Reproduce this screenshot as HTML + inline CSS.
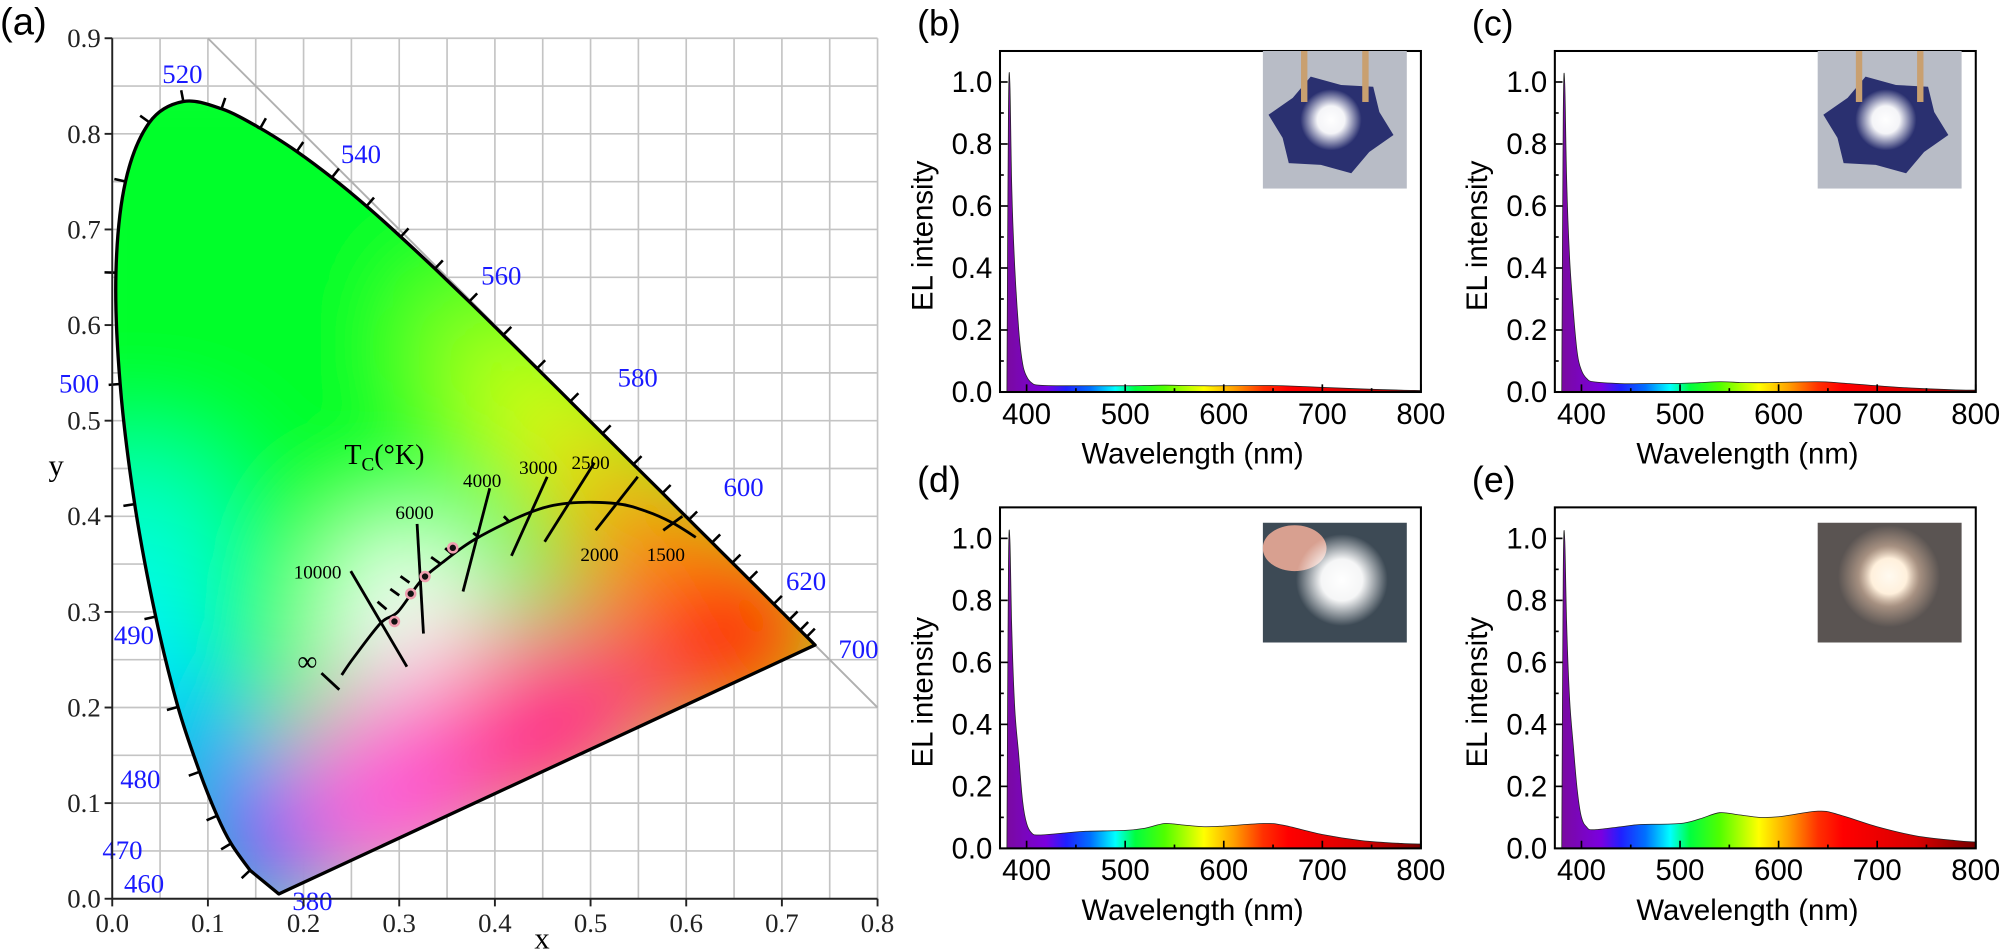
<!DOCTYPE html>
<html><head><meta charset="utf-8"><style>
html,body{margin:0;padding:0;background:#fff;}
svg{display:block;}
.ser{font-family:"Liberation Serif",serif;}
.san{font-family:"Liberation Sans",sans-serif;}
</style></head><body>
<svg id="fig" width="2000" height="951" viewBox="0 0 1568 746" preserveAspectRatio="none" xmlns="http://www.w3.org/2000/svg">
<defs>
<filter id="blur" x="-50%" y="-50%" width="200%" height="200%"><feGaussianBlur stdDeviation="42"/></filter>
<clipPath id="locusClip"><path id="locusClipPath"/></clipPath>
<radialGradient id="glowW"><stop offset="0" stop-color="#fff"/><stop offset="0.45" stop-color="#fff" stop-opacity="0.95"/><stop offset="1" stop-color="#fff" stop-opacity="0"/></radialGradient>
<radialGradient id="glowWarm"><stop offset="0" stop-color="#fffaf0"/><stop offset="0.35" stop-color="#fff0dc"/><stop offset="0.6" stop-color="#d8b8a0" stop-opacity="0.6"/><stop offset="1" stop-color="#d8b8a0" stop-opacity="0"/></radialGradient>
</defs>
<g id="panelA"></g>
<g id="spectra"></g>
</svg>
<script>
// ---- CIE data ----
const locusWl=[380,460,470,475,480,485,490,495,500,505,510,515,520,525,530,535,540,545,550,555,560,565,570,575,580,585,590,595,600,605,610,620,630,640,650,700];
const locusX=[0.1741,0.1440,0.1241,0.1096,0.0913,0.0687,0.0454,0.0235,0.0082,0.0039,0.0139,0.0389,0.0743,0.1142,0.1547,0.1929,0.2296,0.2658,0.3016,0.3373,0.3731,0.4087,0.4441,0.4788,0.5125,0.5448,0.5752,0.6029,0.6270,0.6482,0.6658,0.6915,0.7079,0.7190,0.7260,0.7347];
const locusY=[0.0050,0.0297,0.0578,0.0868,0.1327,0.2007,0.2950,0.4127,0.5384,0.6548,0.7502,0.8120,0.8338,0.8262,0.8059,0.7816,0.7543,0.7243,0.6923,0.6589,0.6245,0.5896,0.5547,0.5202,0.4866,0.4544,0.4242,0.3965,0.3725,0.3514,0.3340,0.3083,0.2920,0.2809,0.2740,0.2653];
const planckX=[0.2399,0.2524,0.2807,0.2985,0.3221,0.3451,0.3805,0.4369,0.4770,0.5267,0.5586,0.5857,0.6100];
const planckY=[0.2340,0.2522,0.2884,0.3000,0.3318,0.3516,0.3768,0.4041,0.4137,0.4133,0.4051,0.3931,0.3780];
const sampleX=[0.295,0.312,0.327,0.356];
const sampleY=[0.290,0.319,0.337,0.367];
const axisTicks=[0,0.1,0.2,0.3,0.4,0.5,0.6,0.7,0.8,0.9];
const tickText=["0.0","0.1","0.2","0.3","0.4","0.5","0.6","0.7","0.8","0.9"];
const wlLabels=["520","540","560","580","600","620","700","500","490","480","470","460","380"];
const tempLabels=["10000","6000","4000","3000","2500","2000","1500"];

const NS="http://www.w3.org/2000/svg";
function mk(tag,attrs,parent){const e=document.createElementNS(NS,tag);for(const k in attrs)e.setAttribute(k,attrs[k]);parent.appendChild(e);return e;}
const X=v=>88+750*v, Y=v=>705-750*v;
function smooth(pts){
  let s='M'+pts[0][0].toFixed(1)+','+pts[0][1].toFixed(1);
  for(let i=0;i<pts.length-1;i++){
    const p0=pts[Math.max(0,i-1)],p1=pts[i],p2=pts[i+1],p3=pts[Math.min(pts.length-1,i+2)];
    const c1=[p1[0]+(p2[0]-p0[0])/6,p1[1]+(p2[1]-p0[1])/6],c2=[p2[0]-(p3[0]-p1[0])/6,p2[1]-(p3[1]-p1[1])/6];
    s+='C'+c1[0].toFixed(1)+','+c1[1].toFixed(1)+' '+c2[0].toFixed(1)+','+c2[1].toFixed(1)+' '+p2[0].toFixed(1)+','+p2[1].toFixed(1);
  }
  return s;
}
const A=document.getElementById('panelA');

let t=mk('text',{x:0,y:27,'font-size':30,class:'san'},A);t.textContent='(a)';


const grid=mk('g',{stroke:'#c4c4c4','stroke-width':1.3,fill:'none'},A);

for(let i=0;i<=16;i++){mk('line',{x1:X(i*0.05),y1:Y(0),x2:X(i*0.05),y2:Y(0.9)},grid);}
for(let i=0;i<=18;i++){mk('line',{x1:X(0),y1:Y(i*0.05),x2:X(0.8),y2:Y(i*0.05)},grid);}
let dl=mk('line',{x1:X(0.1),y1:Y(0.9),x2:X(0.8),y2:Y(0.2),stroke:'#b0b0b0','stroke-width':1.5},A);


// locus path (smooth)
const lpts=locusX.map((v,i)=>[X(v),Y(locusY[i])]);
const d=smooth(lpts.slice(1))+'L'+lpts[0][0]+','+lpts[0][1]+'Z';
const dFull='M'+lpts[0][0]+','+lpts[0][1]+'L'+smooth(lpts.slice(1)).slice(1)+'Z';
document.getElementById('locusClipPath').setAttribute('d',dFull);
const fillG=mk('g',{'clip-path':'url(#locusClip)'},A);

const bl=mk('g',{filter:'url(#blur)'},fillG);
mk('rect',{x:0,y:0,width:760,height:760,fill:'#00ff2a'},bl);
const blobs=[[0.02,0.36,0.11,'#00ffd0'],[0.02,0.24,0.09,'#00f4ff'],[0.09,0.15,0.08,'#00a8ff'],[0.15,0.04,0.08,'#3040ff'],[0.30,0.11,0.12,'#ff58d8'],[0.46,0.18,0.12,'#ff2888'],[0.65,0.28,0.12,'#ff1000'],[0.56,0.37,0.08,'#ff7800'],[0.50,0.45,0.06,'#ffb800'],[0.44,0.51,0.06,'#f0ff00'],[0.38,0.58,0.05,'#b0ff00'],[0.31,0.31,0.08,'#ffffff'],[0.26,0.27,0.04,'#f0ffff']];
blobs.forEach(b=>mk('circle',{cx:X(b[0]),cy:Y(b[1]),r:b[2]*750,fill:b[3]},bl));
let lp=mk('path',{d:dFull,fill:'none',stroke:'#000','stroke-width':2.6,'stroke-linejoin':'round'},A);

const tk=mk('g',{stroke:'#000','stroke-width':2},A);

for(let i=1;i<locusX.length-1;i++){
  const dx=X(locusX[i+1])-X(locusX[i-1]),dy=Y(locusY[i+1])-Y(locusY[i-1]);const n=Math.hypot(dx,dy)||1;
  const nx=dy/n,ny=-dx/n;const px=X(locusX[i]),py=Y(locusY[i]);
  mk('line',{x1:px,y1:py,x2:px+nx*9,y2:py+ny*9},tk);
}
const wlPos=[[143,58],[283,121],[393,216],[500,296],[583,382],[632,456],[673,509],[62,301],[105,498],[110,611],[96,667],[113,693],[245,707]];
wlLabels.forEach((s,i)=>{const e=mk('text',{x:wlPos[i][0],y:wlPos[i][1]+7,'font-size':21,fill:'#1a1aff','text-anchor':'middle',class:'ser'},A);e.textContent=s;
});

const ax=mk('g',{stroke:'#222','stroke-width':1.5},A);

mk('line',{x1:X(0),y1:Y(0),x2:X(0),y2:Y(0.9)},ax);mk('line',{x1:X(0),y1:Y(0),x2:X(0.8),y2:Y(0)},ax);
axisTicks.forEach((v,i)=>{
  mk('line',{x1:X(0)-6,y1:Y(v),x2:X(0),y2:Y(v)},ax);
  let e=mk('text',{x:79,y:Y(v)+7,'font-size':21,'text-anchor':'end',class:'ser',fill:'#222'},A);e.textContent=tickText[i];
  
  if(v<=0.8){mk('line',{x1:X(v),y1:Y(0),x2:X(v),y2:Y(0)+6},ax);
  e=mk('text',{x:X(v),y:731,'font-size':21,'text-anchor':'middle',class:'ser',fill:'#222'},A);e.textContent=tickText[i];
  }
});
t=mk('text',{x:44,y:373,'font-size':24,'text-anchor':'middle',class:'ser'},A);t.textContent='y';

t=mk('text',{x:425,y:744,'font-size':24,'text-anchor':'middle',class:'ser'},A);t.textContent='x';


const ppts=planckX.map((v,i)=>[X(v),Y(planckY[i])]);
let pl=mk('path',{d:smooth(ppts),fill:'none',stroke:'#000','stroke-width':2.2},A);

const iso=mk('g',{stroke:'#000','stroke-width':2.2},A);

[[275,448,319,523],[327,411,332,497],[384,383,363,464],[429,374,401,436],[466,363,427,425],[500,374,467,416],[535,405,520,416],[252,528,266,541],
 [296,472,303,478],[306,462,313,467],[314,452,321,457],[338,437,345,442],[349,430,355,435],[371,418,376,422],[395,405,399,409]].forEach(l=>mk('line',{x1:l[0],y1:l[1],x2:l[2],y2:l[3]},iso));
const tPos=[[249,449],[325,402],[378,377],[422,367],[463,363],[470,435],[522,435]];
tempLabels.forEach((s,i)=>{const e=mk('text',{x:tPos[i][0],y:tPos[i][1]+5,'font-size':15,'text-anchor':'middle',class:'ser'},A);e.textContent=s;
});
t=mk('text',{x:241,y:526,'font-size':22,'text-anchor':'middle',class:'ser'},A);t.textContent='∞';

t=mk('text',{x:270,y:364,'font-size':22,class:'ser'},A);t.innerHTML='T<tspan font-size="15" dy="5">C</tspan><tspan dy="-5">(°K)</tspan>';

sampleX.forEach((v,i)=>{const c=mk('circle',{cx:X(v),cy:Y(sampleY[i]),r:3.5,fill:'#111',stroke:'#f0a0b0','stroke-width':2},A);
});

// ---- spectra data ----
const specWl=[380,381.5,383,385,388,392,396,400,405,412,440,460,500,520,540,560,580,600,640,660,700,740,780,800];
const specB=[0,0.9,1,0.65,0.4,0.2,0.09,0.05,0.03,0.022,0.02,0.02,0.02,0.021,0.022,0.021,0.02,0.02,0.021,0.02,0.015,0.01,0.006,0.005];
const specC=[0,0.9,1,0.68,0.43,0.25,0.12,0.07,0.045,0.033,0.027,0.027,0.028,0.03,0.033,0.031,0.03,0.031,0.033,0.03,0.02,0.012,0.007,0.006];
const specD=[0,0.9,1,0.7,0.45,0.3,0.15,0.08,0.05,0.043,0.05,0.055,0.058,0.065,0.08,0.075,0.07,0.072,0.08,0.075,0.045,0.025,0.016,0.014];
const specE=[0,0.9,1,0.72,0.48,0.32,0.18,0.1,0.07,0.06,0.07,0.077,0.08,0.095,0.115,0.108,0.1,0.102,0.12,0.11,0.07,0.04,0.025,0.02];
const yTicks=[0,0.2,0.4,0.6,0.8,1.0];const yTickText=["0.0","0.2","0.4","0.6","0.8","1.0"];
const xTicks=[400,500,600,700,800];const xTickText=["400","500","600","700","800"];
const gradStops=[[380,'#7a0aa0'],[420,'#7a00e0'],[440,'#2020ff'],[465,'#0070ff'],[490,'#00ffff'],[510,'#00ff40'],[540,'#50ff00'],[580,'#ffff00'],[610,'#ffa000'],[640,'#ff3000'],[665,'#ff0000'],[740,'#d80000'],[800,'#780000']];

const S=document.getElementById('spectra');
const panels=[['b',784,40,specB,'lit-led-photo-b'],['c',1219,40,specC,'lit-led-photo-c'],['d',784,398,specD,'lit-led-photo-d'],['e',1219,398,specE,'lit-led-photo-e']];
panels.forEach((p,pi)=>{
  const [lab,L,T,vals]=p;const W=330,H=267.5,x0=373,x1=800;
  const sx=w=>L+(w-x0)/(x1-x0)*W, sy=v=>T+H-v/1.1*H;
  const g=mk('g',{},S);
  const gid='sg'+lab;const lg=mk('linearGradient',{id:gid,gradientUnits:'userSpaceOnUse',x1:sx(380),y1:0,x2:sx(800),y2:0},document.querySelector('defs'));
  gradStops.forEach(s=>mk('stop',{offset:((s[0]-380)/420).toFixed(3),'stop-color':s[1]},lg));
  const pts=specWl.map((w,i)=>[sx(w),sy(vals[i])]);
  let pd='M'+sx(specWl[0])+','+sy(0)+'L'+pts[0][0]+','+pts[0][1];
  pd+=smooth(pts).replace(/^M[^C]*/,'');
  pd+='L'+sx(specWl[specWl.length-1])+','+sy(0)+'Z';
  const area=mk('path',{d:pd,fill:'url(#'+gid+')',stroke:'#222','stroke-width':0.6},g);
  
  const box=mk('rect',{x:L,y:T,width:W,height:H,fill:'none',stroke:'#000','stroke-width':1.6},g);
  
  for(let v=0.1;v<1.1;v+=0.1){mk('line',{x1:L,y1:sy(v),x2:L+(Math.round(v*10)%2?3:6),y2:sy(v),stroke:'#000','stroke-width':1.3},g);}
  for(let w=400;w<=800;w+=50){mk('line',{x1:sx(w),y1:T+H,x2:sx(w),y2:T+H-(w%100?3:6),stroke:'#000','stroke-width':1.3},g);}
  yTicks.forEach((v,i)=>{const e=mk('text',{x:L-6,y:sy(v)+8,'font-size':23,'text-anchor':'end',class:'san'},g);e.textContent=yTickText[i];
    });
  xTicks.forEach((v,i)=>{const e=mk('text',{x:sx(v),y:T+H+25,'font-size':23,'text-anchor':'middle',class:'san'},g);e.textContent=xTickText[i];
    });
  let e=mk('text',{x:L+W/2-14,y:T+H+56,'font-size':23,'text-anchor':'middle',class:'san'},g);e.textContent='Wavelength (nm)';
  
  e=mk('text',{x:0,y:0,'font-size':23,'text-anchor':'middle',class:'san',transform:'translate('+(L-53)+','+(T+145)+') rotate(-90)'},g);e.textContent='EL intensity';
  
  e=mk('text',{x:L-65,y:T-12,'font-size':28,class:'san'},g);e.textContent='('+lab+')';
  
  const ix=L+206,iy=T+(pi<2?0:12),iw=113,ih=pi<2?108:94;
  const ins=mk('g',{},g);
  const cp=mk('clipPath',{id:'ic'+lab},document.querySelector('defs'));mk('rect',{x:ix,y:iy,width:iw,height:ih},cp);
  const ig=mk('g',{'clip-path':'url(#ic'+lab+')'},ins);
  if(pi<2){
    mk('rect',{x:ix,y:iy,width:iw,height:ih,fill:'#b8bcc6'},ig);
    const cx=ix+iw/2-3,cy=iy+ih/2+4;let sd='';
    for(let k=0;k<12;k++){const a=k*Math.PI/6+0.2,r=k%2?40:50;sd+=(k?'L':'M')+(cx+r*Math.cos(a))+','+(cy+r*Math.sin(a)*0.8);}
    mk('path',{d:sd+'Z',fill:'#2a3070'},ig);
    mk('rect',{x:ix+30,y:iy,width:5,height:40,fill:'#c9a070'},ig);mk('rect',{x:ix+78,y:iy,width:5,height:40,fill:'#c9a070'},ig);
    mk('circle',{cx:cx,cy:cy-4,r:24,fill:'url(#glowW)'},ig);
  }else if(pi==2){
    mk('rect',{x:ix,y:iy,width:iw,height:ih,fill:'#3d4a55'},ig);
    mk('ellipse',{cx:ix+25,cy:iy+20,rx:25,ry:18,fill:'#d8a090'},ig);
    mk('circle',{cx:ix+62,cy:iy+45,r:36,fill:'url(#glowW)'},ig);
  }else{
    mk('rect',{x:ix,y:iy,width:iw,height:ih,fill:'#5a5452'},ig);
    mk('circle',{cx:ix+56,cy:iy+42,r:40,fill:'url(#glowWarm)'},ig);
  }
});
</script>
</body></html>
